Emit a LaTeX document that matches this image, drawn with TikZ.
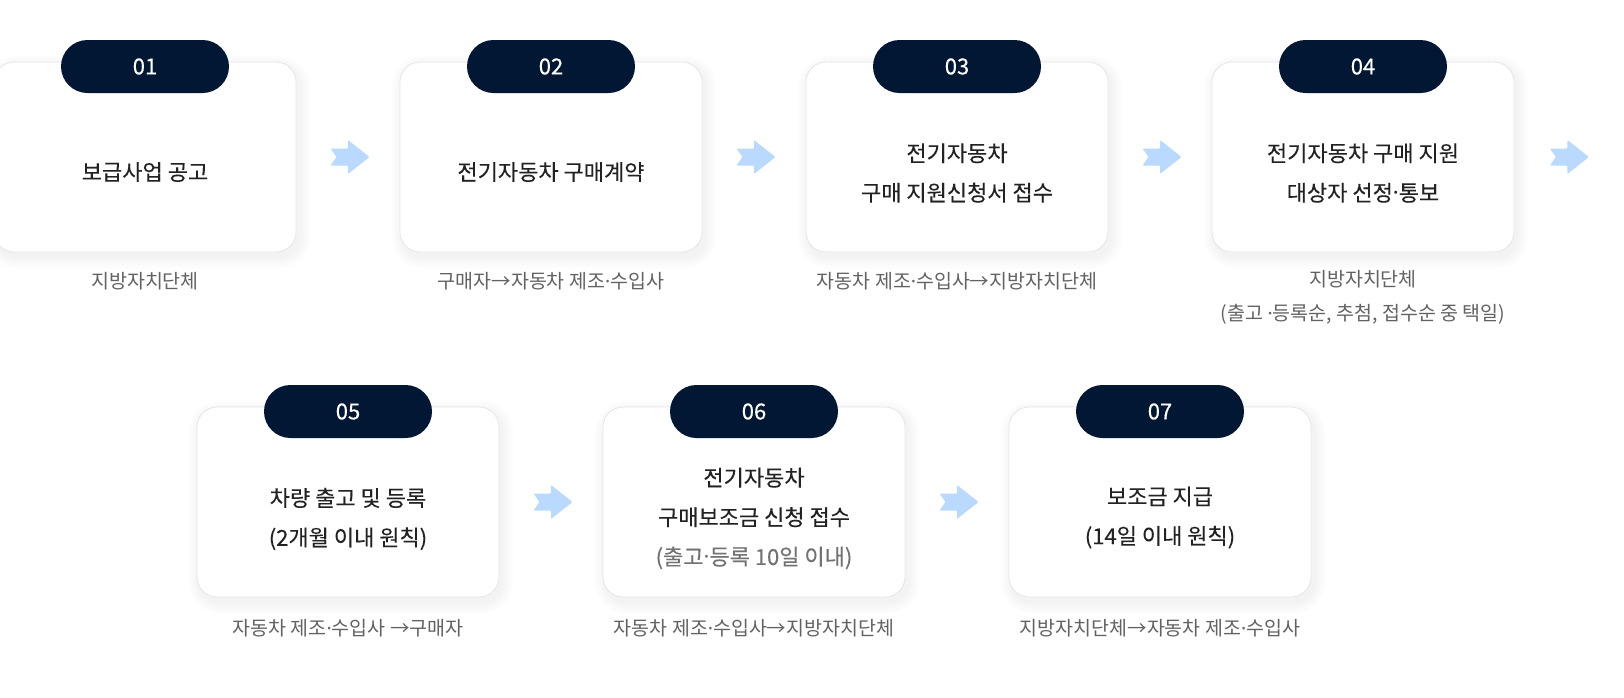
\documentclass[tikz,border=0pt]{standalone}
\usepackage{fontspec}
\setmainfont{Noto Sans CJK KR}
\newfontfamily\numfont[FakeBold=0.4]{Noto Sans CJK KR}
\newfontfamily\titlefont[FakeBold=0.15]{Noto Sans CJK KR}
\newfontfamily\dotfont{Noto Sans}
\newcommand\md{{\dotfont ·}}
\usetikzlibrary{calc}
\definecolor{navy}{HTML}{021733}
\definecolor{arrowblue}{HTML}{BAD9FE}
\definecolor{txt}{HTML}{222222}
\definecolor{capc}{HTML}{626262}
\definecolor{sub}{HTML}{727272}
\definecolor{cardline}{HTML}{E6E6E6}
\tikzset{
  cardbox/.style={draw=cardline, line width=0.8pt, fill=white, rounded corners=20pt,
    minimum width=302pt, minimum height=190pt, inner sep=0pt},
  pillbox/.style={fill=navy, rounded corners=26.5pt, minimum width=168pt,
    minimum height=53pt, inner sep=0pt, text=white,
    font=\numfont\fontsize{22}{22}\selectfont},
  titletext/.style={align=center, text=txt, inner sep=0pt,
    font=\titlefont\fontsize{22}{39.5}\selectfont},
  captext/.style={align=center, text=capc, inner sep=0pt,
    font=\fontsize{19.5}{34}\selectfont},
  flowarrow/.pic={\fill[arrowblue, rounded corners=1pt]
    (-19.5,-8.5) -- (-2,-8.5) -- (-2,-17) -- (19.5,0) -- (-2,17) -- (-2,8.5)
    -- (-19.5,8.5) -- (-13.5,0) -- cycle;},
}
\newcommand\stepcard[4]{% name, cx, cy, number
  \foreach \k [evaluate=\k as \r using 20+\k] in {1,...,12}
    \fill[black, opacity=0.005, rounded corners=\r pt]
      (#2-151+3-\k, #3-95+5-\k) rectangle (#2+151+3+\k, #3+95+5+\k);
  \node[cardbox] (#1) at (#2,#3) {};
  \node[pillbox] (#1p) at (#2,#3-90.5) {#4};
}
\begin{document}
\begin{tikzpicture}[x=1pt,y=-1pt]
\useasboundingbox (0,0) rectangle (1624,697);
\clip (0,0) rectangle (1624,697);
\fill[white] (0,0) rectangle (1624,697);
% row 1
\stepcard{c1}{145}{157}{01}
\stepcard{c2}{551}{157}{02}
\stepcard{c3}{957}{157}{03}
\stepcard{c4}{1363}{157}{04}
% row 2
\stepcard{c5}{348}{502}{05}
\stepcard{c6}{754}{502}{06}
\stepcard{c7}{1160}{502}{07}
% titles
\node[titletext] (t1) at (145,172) {보급사업 공고};
\node[titletext] (t2) at (551,172) {전기자동차 구매계약};
\node[titletext] (t3) at (957,173) {전기자동차\\구매 지원신청서 접수};
\node[titletext] (t4) at (1363,173) {전기자동차 구매 지원\\대상자 선정\md 통보};
\node[titletext] (t5) at (348,519) {차량 출고 및 등록\\(2개월 이내 원칙)};
\node[titletext] (t6) at (754,518.5) {전기자동차\\구매보조금 신청 접수\\{\color{sub}(출고\md 등록 10일 이내)}};
\node[titletext] (t7) at (1160,517.5) {보조금 지급\\(14일 이내 원칙)};
% captions
\node[captext] (k1) at (145,281) {지방자치단체};
\node[captext] (k2) at (551,281) {구매자→자동차 제조\md 수입사};
\node[captext] (k3) at (957,281) {자동차 제조\md 수입사→지방자치단체};
\node[captext] (k4) at (1363,297) {지방자치단체\\(출고 \md 등록순, 추첨, 접수순 중 택일)};
\node[captext] (k5) at (348,628) {자동차 제조\md 수입사 →구매자};
\node[captext] (k6) at (754,628) {자동차 제조\md 수입사→지방자치단체};
\node[captext] (k7) at (1160,628) {지방자치단체→자동차 제조\md 수입사};
% arrows
\pic at ($(c1.east)!0.5!(c2.west)+(2,0)$) {flowarrow};
\pic at ($(c2.east)!0.5!(c3.west)+(2,0)$) {flowarrow};
\pic at ($(c3.east)!0.5!(c4.west)+(2,0)$) {flowarrow};
\pic at ($(c4.east)+(55,0)$) {flowarrow};
\pic at ($(c5.east)!0.5!(c6.west)+(2,0)$) {flowarrow};
\pic at ($(c6.east)!0.5!(c7.west)+(2,0)$) {flowarrow};
\end{tikzpicture}
\end{document}
